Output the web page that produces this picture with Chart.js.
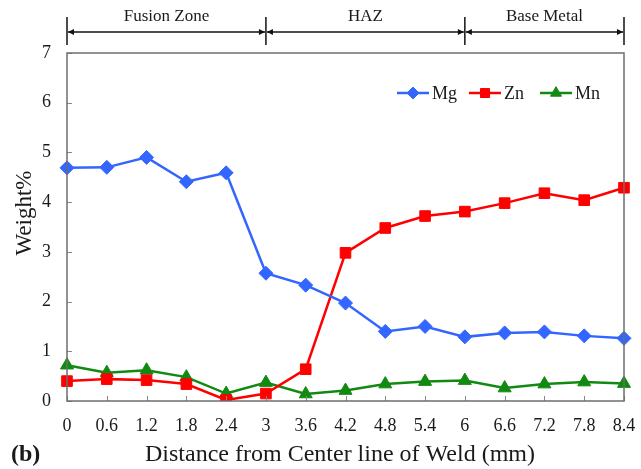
<!DOCTYPE html>
<html>
<head>
<meta charset="utf-8">
<script src="https://cdn.jsdelivr.net/npm/chart.js@4.4.1/dist/chart.umd.min.js"></script>
<style>
  html, body { margin: 0; padding: 0; background: #fff; }
  #wrap { width: 641px; height: 469px; position: relative; }
</style>
</head>
<body>
<div id="wrap"><canvas id="c" width="641" height="469"></canvas></div>
<script>
const categories = ['0','0.6','1.2','1.8','2.4','3','3.6','4.2','4.8','5.4','6','6.6','7.2','7.8','8.4'];
const mgValues = [4.69, 4.70, 4.90, 4.41, 4.59, 2.57, 2.33, 1.97, 1.40, 1.50, 1.29, 1.37, 1.39, 1.31, 1.26];
const znValues = [0.40, 0.44, 0.42, 0.34, 0.02, 0.15, 0.64, 2.98, 3.48, 3.72, 3.81, 3.98, 4.18, 4.04, 4.29];
const mnValues = [0.72, 0.57, 0.62, 0.48, 0.15, 0.37, 0.14, 0.21, 0.34, 0.39, 0.41, 0.26, 0.34, 0.38, 0.35];
const yTicks = [0, 1, 2, 3, 4, 5, 6, 7];
const zoneLabels = ['Fusion Zone', 'HAZ', 'Base Metal'];
const zoneBounds = ['0', '3', '6', '8.4'];
const seriesNames = ['Mg', 'Zn', 'Mn'];
const yTitle = 'Weight%';
const xTitle = 'Distance from Center line of Weld (mm)';
const panelLabel = '(b)';

const FONT = "'Liberation Serif', 'Times New Roman', serif";
const TEXT = '#1a1a1a';

const decor = {
  id: 'decor',
  afterDraw(chart) {
    const ctx = chart.ctx;
    const a = chart.chartArea;
    const xs = chart.scales.x, ys = chart.scales.y;
    ctx.save();
    // inner tick marks
    ctx.strokeStyle = '#888';
    ctx.lineWidth = 1;
    yTicks.forEach(v => {
      const y = Math.round(ys.getPixelForValue(v)) + 0.5;
      ctx.beginPath(); ctx.moveTo(a.left, y); ctx.lineTo(a.left + 5, y); ctx.stroke();
    });
    categories.forEach((c, i) => {
      const x = Math.round(xs.getPixelForValue(i)) + 0.5;
      ctx.beginPath(); ctx.moveTo(x, a.bottom); ctx.lineTo(x, a.bottom - 5); ctx.stroke();
    });
    // plot border
    ctx.strokeStyle = '#6e6e6e';
    ctx.lineWidth = 1.5;
    ctx.strokeRect(a.left, a.top, a.right - a.left, a.bottom - a.top);

    // zone annotation
    const yLine = 32, yTop = 17, yBot = 45;
    ctx.strokeStyle = '#111';
    ctx.fillStyle = '#111';
    ctx.lineWidth = 1.5;
    const bx = zoneBounds.map(b => xs.getPixelForValue(categories.indexOf(b)));
    bx.forEach(x => {
      ctx.beginPath(); ctx.moveTo(x, yTop); ctx.lineTo(x, yBot); ctx.stroke();
    });
    for (let i = 0; i < zoneLabels.length; i++) {
      const x0 = bx[i] + 1, x1 = bx[i + 1] - 1;
      ctx.fillStyle = '#111';
      ctx.beginPath(); ctx.moveTo(x0, yLine); ctx.lineTo(x1, yLine); ctx.stroke();
      ctx.beginPath(); ctx.moveTo(x0, yLine); ctx.lineTo(x0 + 6, yLine - 3); ctx.lineTo(x0 + 6, yLine + 3); ctx.closePath(); ctx.fill();
      ctx.beginPath(); ctx.moveTo(x1, yLine); ctx.lineTo(x1 - 6, yLine - 3); ctx.lineTo(x1 - 6, yLine + 3); ctx.closePath(); ctx.fill();
      ctx.font = '17px ' + FONT;
      ctx.fillStyle = TEXT;
      ctx.textAlign = 'center';
      ctx.textBaseline = 'middle';
      ctx.fillText(zoneLabels[i], (bx[i] + bx[i + 1]) / 2, 17);
    }

    // legend (line + marker)
    const legendX = [397, 469, 540];
    const ly = 93;
    chart.data.datasets.forEach((ds, i) => {
      const x0 = legendX[i], x1 = x0 + 32;
      ctx.strokeStyle = ds.borderColor;
      ctx.lineWidth = 2.5;
      ctx.beginPath(); ctx.moveTo(x0, ly); ctx.lineTo(x1, ly); ctx.stroke();
      ctx.fillStyle = ds.backgroundColor;
      ctx.strokeStyle = ds.borderColor;
      ctx.lineWidth = 1;
      Chart.helpers.drawPoint(ctx, {
        pointStyle: ds.pointStyle, radius: ds.pointRadius * 0.85, rotation: 0, borderWidth: 1
      }, (x0 + x1) / 2, ly);
      ctx.fillStyle = TEXT;
      ctx.font = '18px ' + FONT;
      ctx.textAlign = 'left';
      ctx.textBaseline = 'middle';
      ctx.fillText(seriesNames[i], x1 + 3, ly + 1);
    });

    // y-axis title
    ctx.save();
    ctx.translate(25, 213);
    ctx.rotate(-Math.PI / 2);
    ctx.fillStyle = TEXT;
    ctx.font = '23px ' + FONT;
    ctx.textAlign = 'center';
    ctx.textBaseline = 'middle';
    ctx.fillText(yTitle, 0, 0);
    ctx.restore();

    // x-axis title
    ctx.fillStyle = TEXT;
    ctx.font = '24px ' + FONT;
    ctx.textAlign = 'center';
    ctx.textBaseline = 'middle';
    ctx.fillText(xTitle, 340, 455);

    // (b) label
    ctx.font = 'bold 24px ' + FONT;
    ctx.textAlign = 'left';
    ctx.fillText(panelLabel, 11, 455);
    ctx.restore();
  }
};

function mkSet(label, data, color, style, r) {
  return {
    label, data,
    borderColor: color, backgroundColor: color,
    borderWidth: 2.5,
    pointStyle: style, pointRadius: r, pointHoverRadius: r,
    pointBorderWidth: 1, pointBorderColor: color, pointBackgroundColor: color,
    tension: 0, fill: false
  };
}

new Chart(document.getElementById('c'), {
  type: 'line',
  data: {
    labels: categories,
    datasets: [
      mkSet(seriesNames[0], mgValues, '#3366FF', 'rectRot', 7),
      mkSet(seriesNames[1], znValues, '#FF0000', 'rect', 7.5),
      mkSet(seriesNames[2], mnValues, '#128A12', 'triangle', 7.5)
    ]
  },
  options: {
    responsive: false,
    animation: false,
    devicePixelRatio: 1,
    layout: { padding: { top: 53, right: 17, left: 0, bottom: 0 } },
    plugins: { legend: { display: false }, tooltip: { enabled: false } },
    scales: {
      x: {
        type: 'category',
        offset: false,
        grid: { display: false, drawTicks: false },
        border: { display: false },
        ticks: { color: TEXT, font: { family: FONT, size: 18 }, padding: 14, maxRotation: 0, autoSkip: false },
        title: { display: false },
        afterFit(s) { s.height = 68; s.paddingLeft = 0; s.paddingRight = 0; }
      },
      y: {
        min: 0, max: 7,
        grid: { display: false, drawTicks: false },
        border: { display: false },
        afterBuildTicks(s) { s.ticks = yTicks.map(v => ({ value: v })); },
        ticks: { color: TEXT, font: { family: FONT, size: 18 }, padding: 16 },
        title: { display: false },
        afterFit(s) { s.width = 67; s.paddingTop = 0; s.paddingBottom = 0; }
      }
    }
  },
  plugins: [decor]
});
</script>
</body>
</html>
